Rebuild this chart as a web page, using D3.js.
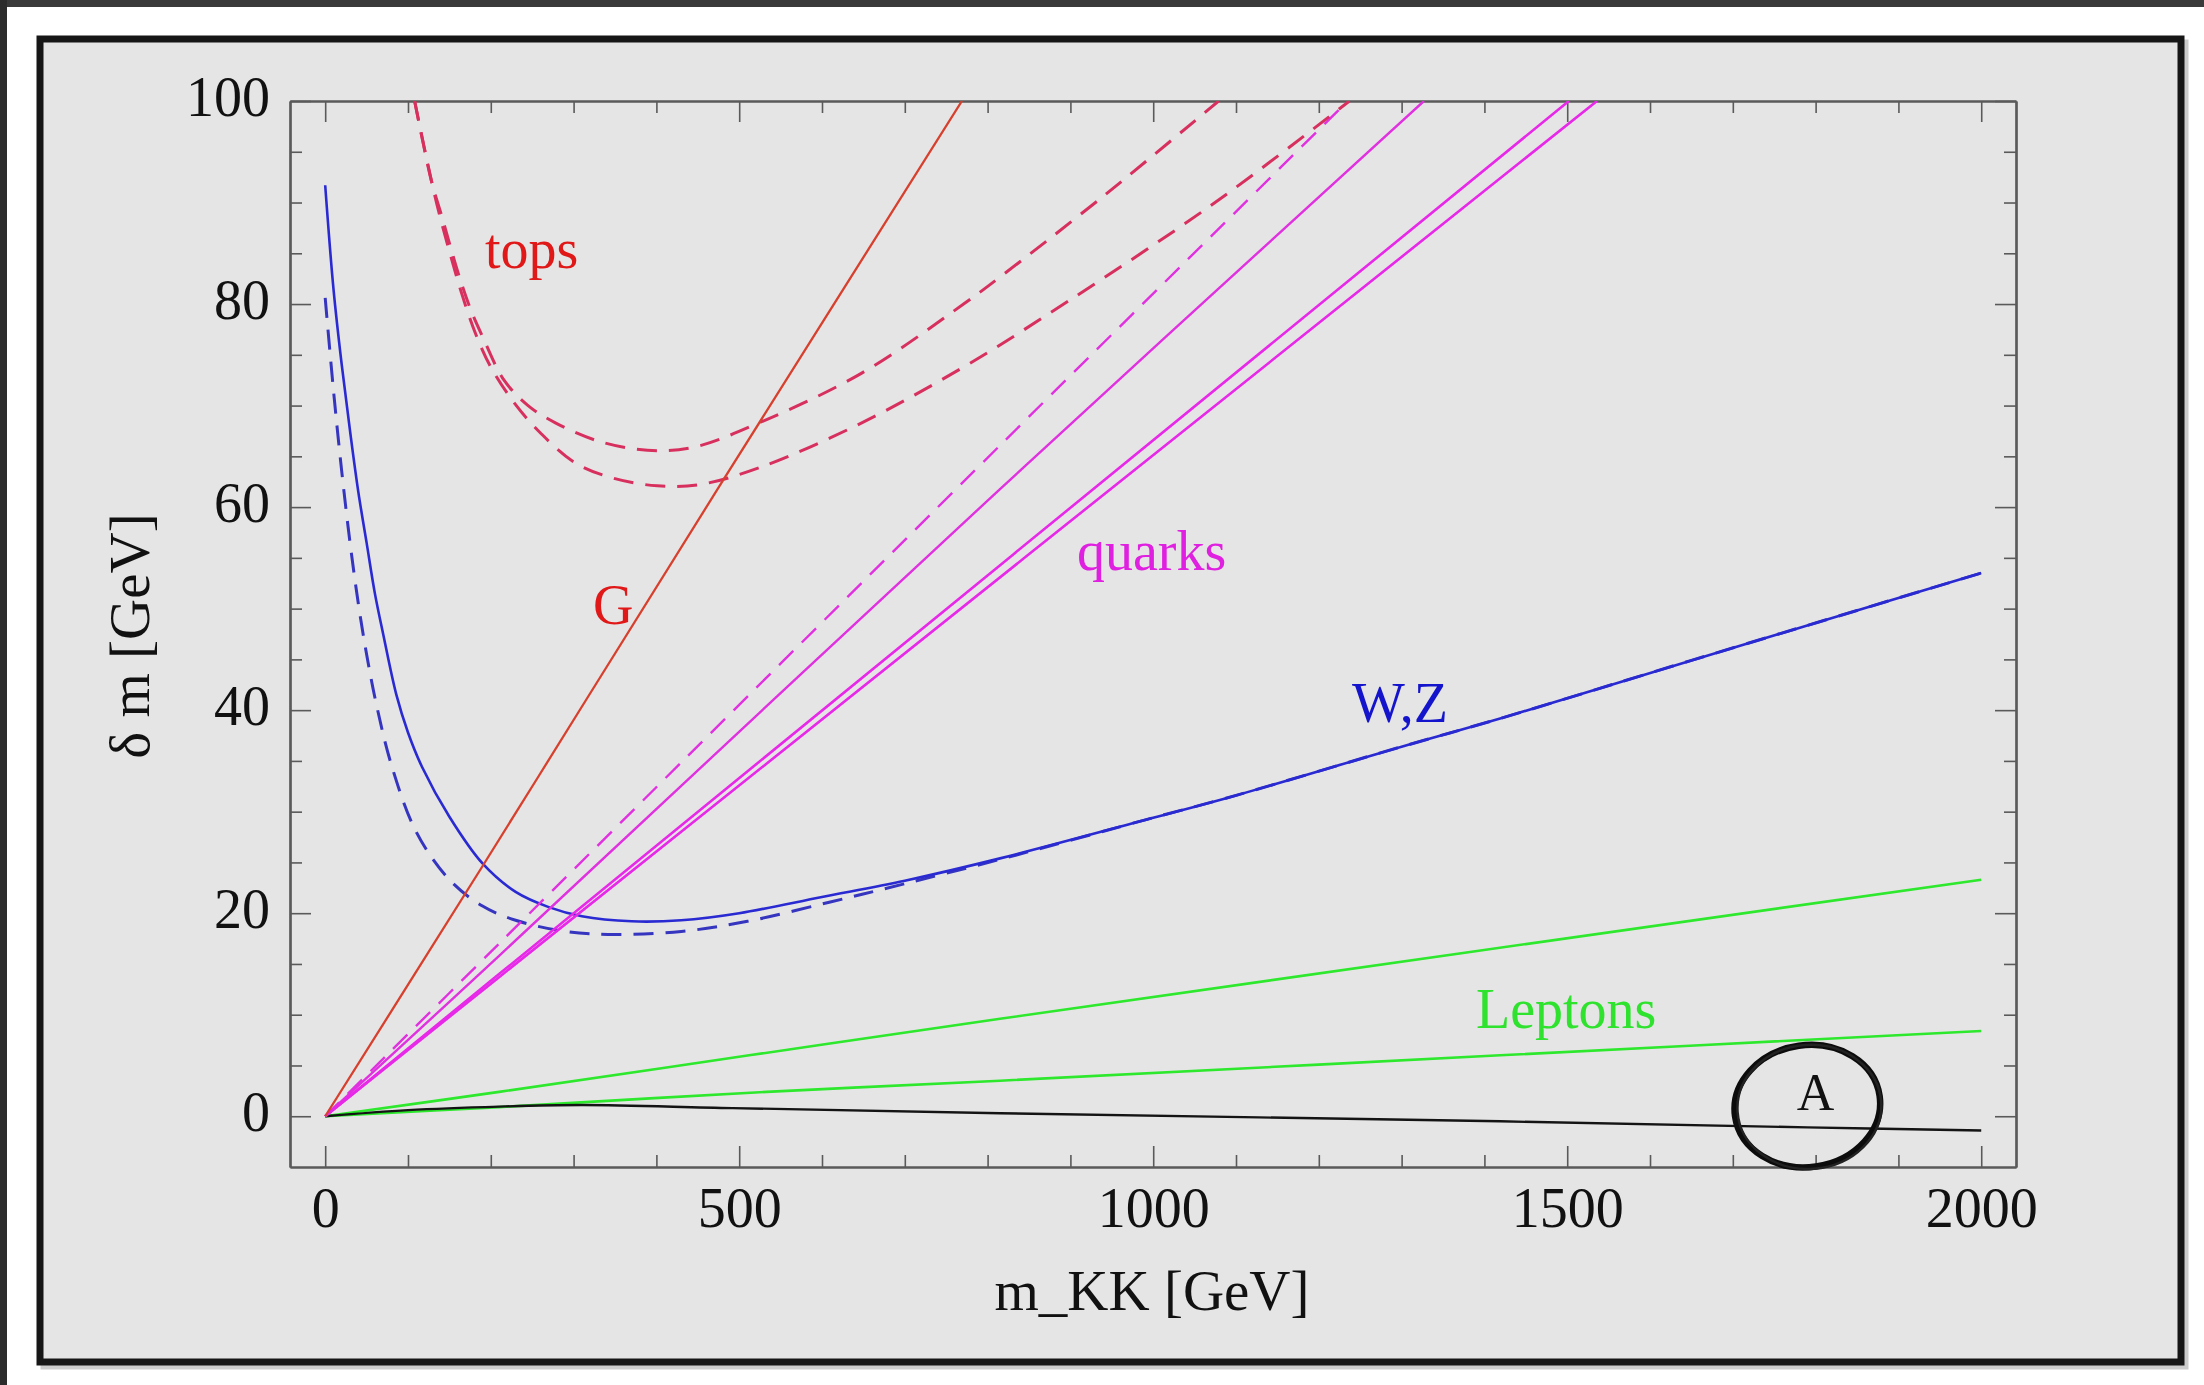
<!DOCTYPE html>
<meta charset="utf-8">

<!-- Load d3.js -->
<script src="https://d3js.org/d3.v7.min.js"></script>

<style>
  body { margin: 0; background: #ffffff; }
  svg { display: block; }
</style>

<!-- Create a div where the graph will take place -->
<div id="my_dataviz"></div>

<script>

    // tick labels
    var xTicks = [0, 500, 1000, 1500, 2000];
    var yTicks = [0, 20, 40, 60, 80, 100];

    // curves: [m_KK, delta m]
    var gluon = [[0,0],[189,24.5],[315,41],[481,62.7],[769,100]];

    var topsUpper = [[108,100],[120,95.2],[129,91.9],[141,88.6],[150,86],[162,82.7],[176,79.4],[190,76.8],
                     [216,72.5],[245,70],[278,68.3],[330,66.5],[389,65.6],[445,65.9],[524,68.3],[648,73.2],
                     [771,80.0],[814,82.6],[944,90.9],[1079,100]];
    var topsLower = [[108,100],[122,94.5],[135,89.8],[150,85.2],[165,81],[182,77],[200,73.8],[228,70.3],
                     [260,67.3],[303,64.3],[350,62.8],[401,62.1],[451,62.2],[525,63.9],[648,68.3],[771,73.8],
                     [875,79.1],[1073,89.9],[1237,100]];

    var quarkDashed = [[0,0],[210,17],[819,66.4],[1235,100]];
    var quark1 = [[0,0],[210,15.8],[814,61.7],[1327,100]];
    var quark2 = [[0,0],[210,14.0],[1502,100]];
    var quark3 = [[0,0],[210,13.7],[1536,100]];

    var wzSolid = [[0,91.7],[10,81.5],[20,74],[30,67.5],[40,61.5],[50,56.5],[60,51.5],[70,47.5],[86,41.5],
                   [100,37.8],[117,34.4],[150,29.5],[190,24.9],[230,22.1],[270,20.6],[310,19.7],[370,19.2],
                   [430,19.3],[500,20],[600,21.6],[700,23.2],[815,25.4],[1000,29.4],[1100,31.6],[1300,36.4],
                   [1420,39.2],[1650,44.9],[2000,53.5]];
    var wzDashed = [[0,80.6],[10,71.5],[20,63.5],[30,56.5],[40,50.5],[50,45.5],[62,40.5],[80,34.6],[110,28],
                    [150,23.3],[190,20.7],[230,19.3],[290,18.2],[350,17.9],[430,18.2],[510,19.2],[610,21.1],
                    [700,22.9],[815,25.3],[1000,29.4],[1100,31.6],[1300,36.4],[1420,39.2],[1650,44.9],[2000,53.5]];

    var leptonUpper = [[0,0],[210,2.4],[512,6.0],[815,9.6],[2000,23.3]];
    var leptonLower = [[0,0],[210,0.9],[533,2.4],[815,3.5],[1419,6.0],[2000,8.4]];
    var photon = [[0,0],[100,0.6],[210,0.95],[311,1.1],[492,0.8],[815,0.3],[1419,-0.5],[1790,-1.1],[2000,-1.4]];

    // set the dimensions and margins of the graph
    var margin = {top: 101, right: 188, bottom: 218, left: 290},
        width = 2204 - margin.left - margin.right,
        height = 1385 - margin.top - margin.bottom;

    var root = d3.select("#my_dataviz")
      .append("svg")
        .attr("width", 2204)
        .attr("height", 1385)
        .style("font-family", "'Liberation Serif', 'Times New Roman', serif");

    // dark strips of the screenshot edges
    root.append("rect").attr("x", 0).attr("y", 0).attr("width", 2204).attr("height", 7).attr("fill", "#3a3a3a");
    root.append("rect").attr("x", 0).attr("y", 0).attr("width", 7).attr("height", 1385).attr("fill", "#2c2c2c");

    // outer frame of the figure
    root.append("rect")
      .attr("x", 43).attr("y", 42).attr("width", 2143).attr("height", 1325)
      .attr("fill", "none").attr("stroke", "#999").attr("stroke-width", 5).attr("opacity", 0.5);
    root.append("rect")
      .attr("x", 40).attr("y", 39).attr("width", 2141).attr("height", 1323)
      .attr("fill", "#e5e5e5").attr("stroke", "#161616").attr("stroke-width", 7);

    var svg = root.append("g")
        .attr("transform", "translate(" + margin.left + "," + margin.top + ")");

    // scales
    var x = d3.scaleLinear()
      .domain([-42.5, 2042])
      .range([0, width]);
    var y = d3.scaleLinear()
      .domain([-5, 100])
      .range([height, 0]);

    var axisColor = "#5a5a5a";

    // minor ticks, every 100 GeV and every 5 GeV
    var xMinor = d3.range(0, 2001, 100).filter(function(d){ return d % 500 != 0 });
    var yMinor = d3.range(-5, 101, 5).filter(function(d){ return d % 20 != 0 && d > -5 && d < 100 });

    function styleAxis(g) {
      g.select(".domain").attr("stroke", axisColor).attr("stroke-width", 2.2);
      g.selectAll(".tick line").attr("stroke", axisColor).attr("stroke-width", 1.6);
      g.attr("font-size", null).attr("font-family", null);
      g.selectAll("text").attr("fill", "#111").style("font-size", "56px");
    }

    // bottom
    svg.append("g")
      .attr("transform", "translate(0," + height + ")")
      .call(d3.axisBottom(x).tickValues(xTicks).tickFormat(d3.format("d")).tickSize(-21).tickSizeOuter(0).tickPadding(20))
      .call(styleAxis);
    svg.append("g")
      .attr("transform", "translate(0," + height + ")")
      .call(d3.axisBottom(x).tickValues(xMinor).tickSize(-12).tickSizeOuter(0).tickFormat(""))
      .call(styleAxis);
    // top
    svg.append("g")
      .call(d3.axisTop(x).tickValues(xTicks).tickSize(-21).tickSizeOuter(0).tickFormat(""))
      .call(styleAxis);
    svg.append("g")
      .call(d3.axisTop(x).tickValues(xMinor).tickSize(-12).tickSizeOuter(0).tickFormat(""))
      .call(styleAxis);
    // left
    svg.append("g")
      .call(d3.axisLeft(y).tickValues(yTicks).tickFormat(d3.format("d")).tickSize(-21).tickSizeOuter(0).tickPadding(20))
      .call(styleAxis)
      .selectAll("text").attr("dy", "0.25em");
    svg.append("g")
      .call(d3.axisLeft(y).tickValues(yMinor).tickSize(-12).tickSizeOuter(0).tickFormat(""))
      .call(styleAxis);
    // right
    svg.append("g")
      .attr("transform", "translate(" + width + ",0)")
      .call(d3.axisRight(y).tickValues(yTicks).tickSize(-21).tickSizeOuter(0).tickFormat(""))
      .call(styleAxis);
    svg.append("g")
      .attr("transform", "translate(" + width + ",0)")
      .call(d3.axisRight(y).tickValues(yMinor).tickSize(-12).tickSizeOuter(0).tickFormat(""))
      .call(styleAxis);

    // clip the curves to the plot box
    svg.append("clipPath").attr("id", "plotclip")
      .append("rect").attr("width", width).attr("height", height);

    var line = d3.line()
      .x(function(d) { return x(d[0]) })
      .y(function(d) { return y(d[1]) })
      .curve(d3.curveCatmullRom.alpha(0.5));

    var curves = [
      {data: leptonUpper, color: "#2de82d", w: 2.6, dash: null},
      {data: leptonLower, color: "#2de82d", w: 2.6, dash: null},
      {data: photon, color: "#141414", w: 2.4, dash: null},
      {data: wzDashed, color: "#3535c0", w: 3, dash: "20,12"},
      {data: wzSolid, color: "#2a2ad2", w: 2.6, dash: null},
      {data: quarkDashed, color: "#e030e0", w: 2.4, dash: "20,12"},
      {data: quark1, color: "#e030e0", w: 2.4, dash: null},
      {data: quark2, color: "#e828e8", w: 2.6, dash: null},
      {data: quark3, color: "#e828e8", w: 2.6, dash: null},
      {data: topsUpper, color: "#d8305e", w: 3, dash: "20,12"},
      {data: topsLower, color: "#d8305e", w: 3, dash: "20,12"},
      {data: gluon, color: "#d8402e", w: 2.3, dash: null}
    ];

    svg.append("g")
      .attr("clip-path", "url(#plotclip)")
      .selectAll("path")
      .data(curves)
      .enter()
      .append("path")
        .attr("d", function(d) { return line(d.data) })
        .attr("fill", "none")
        .attr("stroke", function(d) { return d.color })
        .attr("stroke-width", function(d) { return d.w })
        .attr("stroke-dasharray", function(d) { return d.dash });

    // curve labels, placed where they sit in the figure
    var labelText = ["tops", "G", "quarks", "W,Z", "Leptons"];
    var labelColor = ["#e01818", "#e01818", "#e020e0", "#1414cc", "#2ee22e"];
    var labelX = [485, 593, 1077, 1352, 1476];
    var labelY = [268, 624, 570, 722, 1028];

    root.append("g")
      .selectAll("text")
      .data(labelText)
      .enter()
      .append("text")
        .attr("x", function(d, i) { return labelX[i] })
        .attr("y", function(d, i) { return labelY[i] })
        .attr("fill", function(d, i) { return labelColor[i] })
        .style("font-size", "56px")
        .text(function(d) { return d });

    // hand drawn circle round the photon line
    var cx = x(1790), cy = y(1.0);
    svg.append("ellipse")
      .attr("cx", cx).attr("cy", cy)
      .attr("rx", 73).attr("ry", 61)
      .attr("transform", "rotate(-8," + cx + "," + cy + ")")
      .attr("fill", "none").attr("stroke", "#0c0c0c").attr("stroke-width", 6.5);
    svg.append("ellipse")
      .attr("cx", cx + 2).attr("cy", cy + 1)
      .attr("rx", 72).attr("ry", 62)
      .attr("transform", "rotate(-4," + cx + "," + cy + ")")
      .attr("fill", "none").attr("stroke", "#222").attr("stroke-width", 2.5);
    svg.append("text")
      .attr("x", x(1800)).attr("y", y(0.6))
      .attr("text-anchor", "middle")
      .attr("fill", "#111")
      .style("font-size", "52px")
      .text("A");

    // axis titles
    root.append("text")
      .attr("x", 1152).attr("y", 1310)
      .attr("text-anchor", "middle")
      .attr("fill", "#111")
      .style("font-size", "57px")
      .text("m_KK [GeV]");

    root.append("text")
      .attr("transform", "translate(149,636) rotate(-90)")
      .attr("text-anchor", "middle")
      .attr("fill", "#111")
      .style("font-size", "57px")
      .text("\u03b4 m [GeV]");

</script>
